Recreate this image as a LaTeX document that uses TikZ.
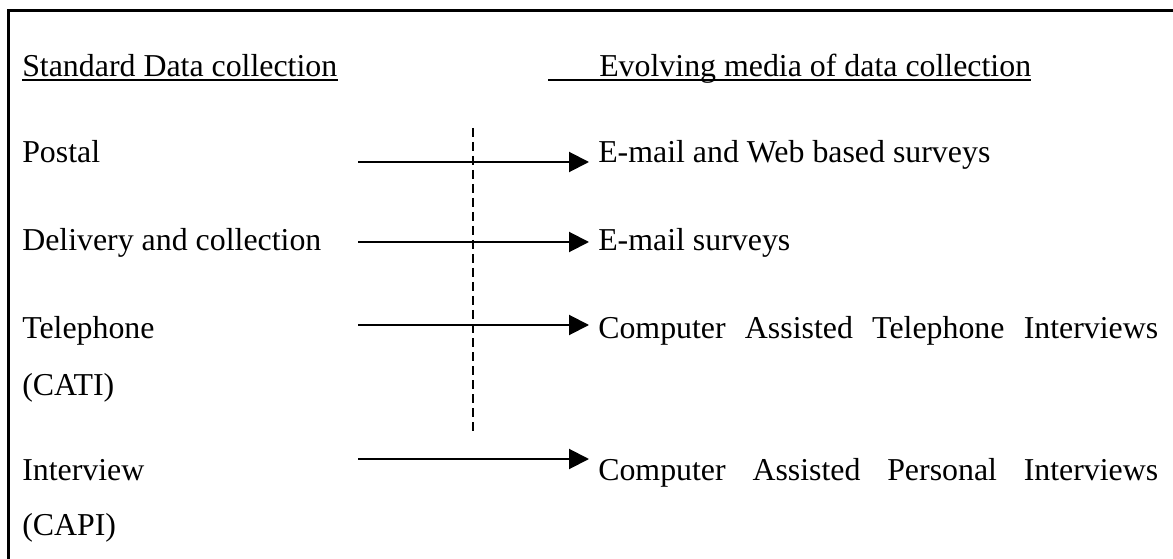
\documentclass[tikz,border=0pt]{standalone}
\usepackage{fontspec}
\setmainfont{Liberation Serif}
\usetikzlibrary{arrows.meta}
\begin{document}
\begin{tikzpicture}[x=0.75pt,y=-0.75pt,
  txt/.style={anchor=base west,inner sep=0pt,font=\fontsize{23.9pt}{28pt}\selectfont},
  arr/.style={line width=1.5pt,-{Triangle[length=15pt,width=15pt]}},
  uline/.style={line width=1.5pt},
  frameline/.style={line width=2.25pt},
  divider/.style={line width=1pt,dash pattern=on 7pt off 3.5pt}]
\useasboundingbox (0,0) rectangle (1173,559);
% frame
\draw[frameline] (8,559) -- (8,11) -- (1173,11);
% headers
\node[txt] (hl) at (22,77) {Standard Data collection};
\node[txt] (hr) at (599,77) {Evolving media of data collection};
\draw[uline] (22,80) -- (hl.east |- 0,80);
\draw[uline] (548,80) -- (hr.east |- 0,80);
% left column
\node[txt] (l1) at (22,163) {Postal};
\node[txt] (l2) at (22,251) {Delivery and collection};
\node[txt] (l3) at (22,338) {Telephone};
\node[txt] (l3b) at (22,395) {(CATI)};
\node[txt] (l4) at (22,480) {Interview};
\node[txt] (l4b) at (22,535) {(CAPI)};
% right column
\node[txt] (r1) at (598,163) {E-mail and Web based surveys};
\node[txt] (r2) at (598,251) {E-mail surveys};
\node[txt] (r3) at (598,338) {\hbox to 420pt{Computer\hfill Assisted\hfill Telephone\hfill Interviews}};
\node[txt] (r4) at (598,480) {\hbox to 420pt{Computer\hfill Assisted\hfill Personal\hfill Interviews}};
% divider
\coordinate (d1) at (473,128);
\coordinate (d2) at (473,433);
\draw[divider] (d1) -- (d2);
% arrows
\coordinate (s1) at (358,162); \coordinate (t1) at (589,162);
\coordinate (s2) at (358,242); \coordinate (t2) at (589,242);
\coordinate (s3) at (358,325); \coordinate (t3) at (589,325);
\coordinate (s4) at (358,459); \coordinate (t4) at (589,459);
\draw[arr] (s1) -- (t1);
\draw[arr] (s2) -- (t2);
\draw[arr] (s3) -- (t3);
\draw[arr] (s4) -- (t4);
\end{tikzpicture}
\end{document}
